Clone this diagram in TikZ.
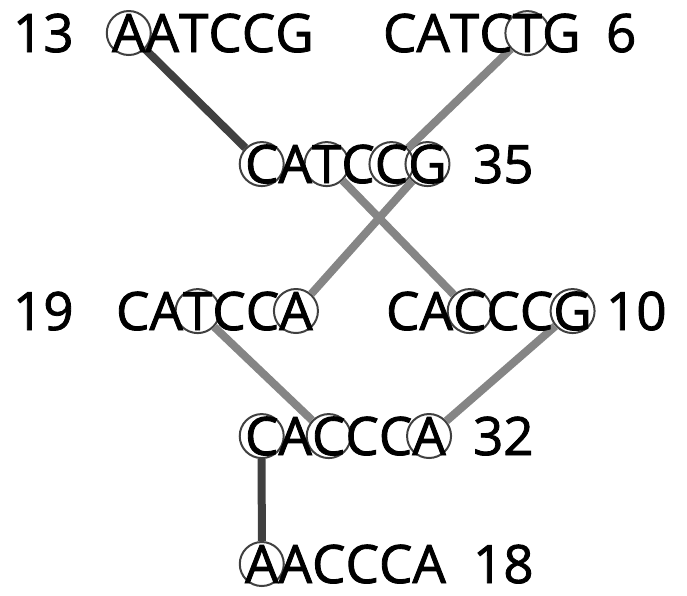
\documentclass[tikz,border=0pt]{standalone}
\usepackage{fontspec}
\setmainfont{Open Sans}[FakeBold=1.6]
\usetikzlibrary{backgrounds}

\tikzset{
  nt/.style={font=\fontsize{53}{53}\selectfont, inner sep=0pt, outer sep=0pt, anchor=base west},
  mut/.style={circle, draw=black!75, line width=2pt, minimum size=44pt, inner sep=0pt},
  link/.style={line width=8pt, draw=black!48},
  darklink/.style={line width=8pt, draw=black!75},
}

% one sequence, one node per base, so each base can be circled
\newcommand\seqword[4]{%
  \foreach \ch [count=\i] in {#4} {%
    \ifnum\i=1
      \node[nt] (#1-1) at (#2,#3) {\ch};%
    \else
      \pgfmathtruncatemacro\j{\i-1}%
      \node[nt] (#1-\i) at (#1-\j.base east) {\ch};%
    \fi
  }%
}

\begin{document}
\begin{tikzpicture}[x=1pt,y=-1pt]
\useasboundingbox (0,0) rectangle (687,595);

% haplotypes
\seqword{h13}{112}{52}{A,A,T,C,C,G}
\seqword{h6}{383}{52}{C,A,T,C,T,G}
\seqword{h35}{245}{183}{C,A,T,C,C,G}
\seqword{h19}{116}{330}{C,A,T,C,C,A}
\seqword{h10}{386}{330}{C,A,C,C,C,G}
\seqword{h32}{245}{455}{C,A,C,C,C,A}
\seqword{h18}{245}{583}{A,A,C,C,C,A}

% counts
\node[nt] (n13) at (13,52) {13};
\node[nt] (n6) at (606,52) {6};
\node[nt] (n35) at (473,183) {35};
\node[nt] (n19) at (13,330) {19};
\node[nt] (n10) at (606,330) {10};
\node[nt] (n32) at (473,455) {32};
\node[nt] (n18) at (473,583) {18};

\begin{scope}[on background layer]
  % circled sites
  \node[mut] (m13a) at (h13-1) {};
  \node[mut] (m6e)  at (h6-5) {};
  \node[mut] (m35a) at (h35-1) {};
  \node[mut] (m35c) at (h35-3) {};
  \node[mut] (m35e) at (h35-5) {};
  \node[mut] (m35f) at (h35-6) {};
  \node[mut] (m19c) at (h19-3) {};
  \node[mut] (m19f) at (h19-6) {};
  \node[mut] (m10c) at (h10-3) {};
  \node[mut] (m10f) at (h10-6) {};
  \node[mut] (m32a) at (h32-1) {};
  \node[mut] (m32c) at (h32-3) {};
  \node[mut] (m32f) at (h32-6) {};
  \node[mut] (m18a) at (h18-1) {};

  % network links
  \draw[darklink] (m13a) -- (m35a);
  \draw[link] (m6e) -- (m35e);
  \draw[link] (m35c) -- (m10c);
  \draw[link] (m35f) -- (m19f);
  \draw[link] (m19c) -- (m32c);
  \draw[link] (m10f) -- (m32f);
  \draw[darklink] (m32a) -- (m18a);
\end{scope}
\end{tikzpicture}
\end{document}
